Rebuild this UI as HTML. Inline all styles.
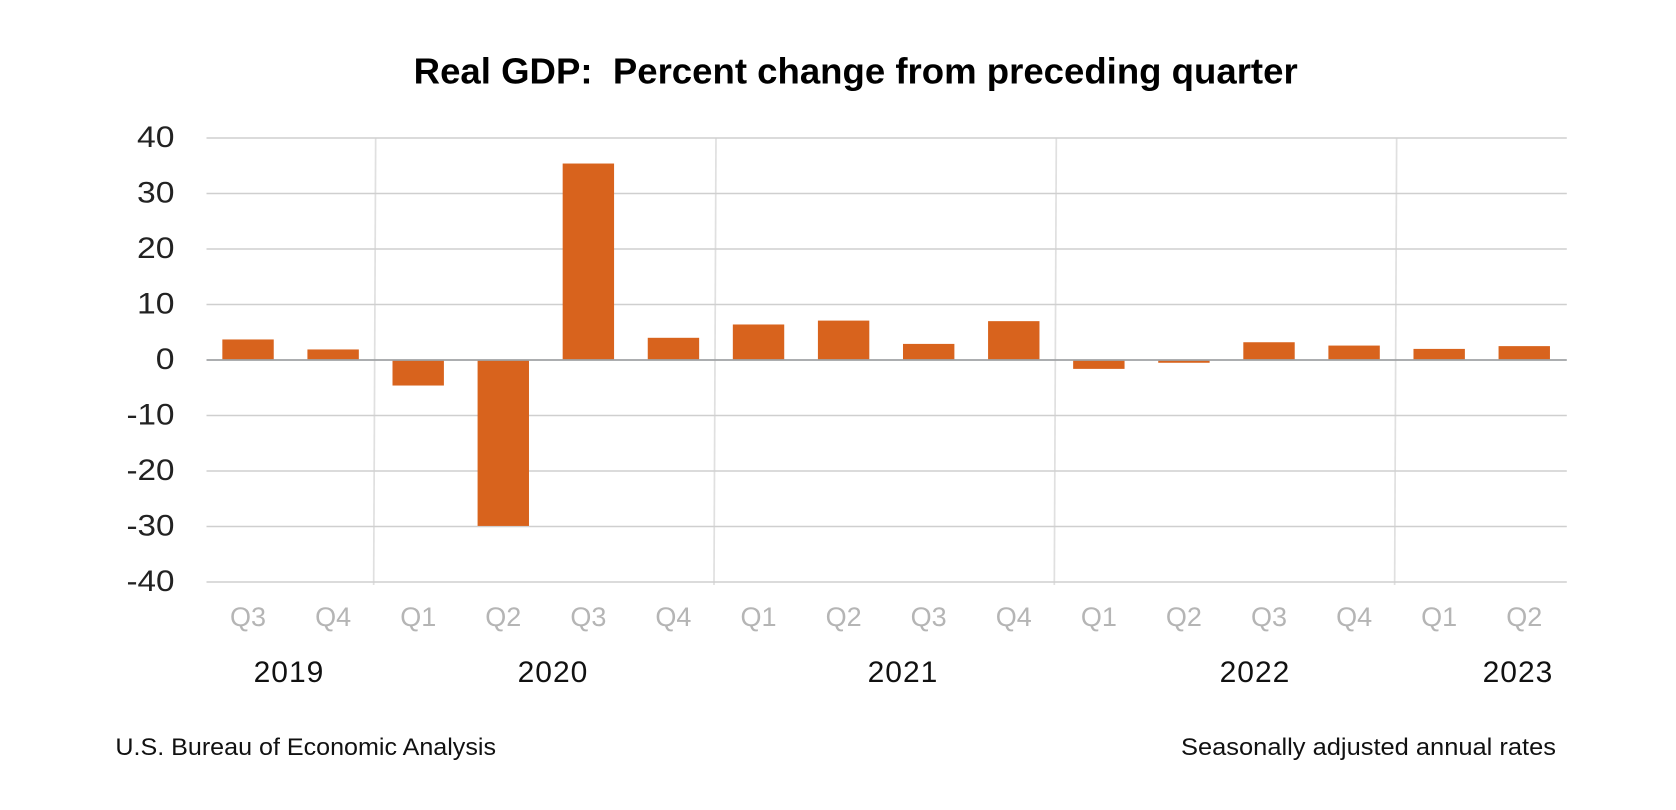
<!DOCTYPE html>
<html>
<head>
<meta charset="utf-8">
<style>
html,body{margin:0;padding:0;background:#fff;width:1676px;height:810px;overflow:hidden}
svg{display:block}
text{font-family:"Liberation Sans",sans-serif;white-space:pre}
</style>
</head>
<body>
<svg id="chart" width="1676" height="810" viewBox="0 0 1676 810" xmlns="http://www.w3.org/2000/svg">
<rect width="1676" height="810" fill="#fff"/>
<text x="413.7" y="83.5" font-size="36" font-weight="bold" fill="#000" textLength="884" lengthAdjust="spacingAndGlyphs">Real GDP:  Percent change from preceding quarter</text>
<text x="115.4" y="755" font-size="24" fill="#111" textLength="380.6" lengthAdjust="spacingAndGlyphs">U.S. Bureau of Economic Analysis</text>
<text x="1181" y="755" font-size="24" fill="#111" textLength="375" lengthAdjust="spacingAndGlyphs">Seasonally adjusted annual rates</text>
<text x="289" y="682" text-anchor="middle" font-size="30" letter-spacing="1" fill="#111">2019</text>
<text x="553" y="682" text-anchor="middle" font-size="30" letter-spacing="1" fill="#111">2020</text>
<text x="903" y="682" text-anchor="middle" font-size="30" letter-spacing="1" fill="#111">2021</text>
<text x="1255" y="682" text-anchor="middle" font-size="30" letter-spacing="1" fill="#111">2022</text>
<text x="1518" y="682" text-anchor="middle" font-size="30" letter-spacing="1" fill="#111">2023</text>
</svg>
<script>
var quarters = ['Q3','Q4','Q1','Q2','Q3','Q4','Q1','Q2','Q3','Q4','Q1','Q2','Q3','Q4','Q1','Q2'];
var gdpValues = [3.7,1.9,-4.6,-29.9,35.4,4.0,6.4,7.1,2.9,7.0,-1.6,-0.5,3.2,2.6,2.0,2.5];
var yTicks = [40,30,20,10,0,-10,-20,-30,-40];

var NS = 'http://www.w3.org/2000/svg';
var svg = document.getElementById('chart');
var left = 205.5, right = 1566.8, slot = (right - left) / quarters.length;
var barWidth = 51.4;
function yScale(v){ return 360 - v * 5.55; }
function xScale(i){ return left + slot * i; }
function make(tag, attrs, text){
  var el = document.createElementNS(NS, tag);
  for (var k in attrs) el.setAttribute(k, attrs[k]);
  if (text !== undefined) el.textContent = text;
  svg.appendChild(el);
  return el;
}
quarters.forEach(function(q, i){
  if (q !== 'Q1') return;
  var sep = make('line', {x1:xScale(i), x2:xScale(i) - 2, y1:yScale(40), y2:yScale(-40) + 3, stroke:'#e0e0e0', 'stroke-width':1.7});
  
  
});
yTicks.forEach(function(t){
  if (t !== 0) {
    var grid = make('line', {x1:left + 1, x2:right, y1:yScale(t), y2:yScale(t), stroke:'#cfcfcf', 'stroke-width':1.6});
    
    
  }
  var label = String(t);
  var digits = label.replace('-', '').length;
  var labelWidth = digits * 18.75 + (t < 0 ? 10.5 : 0);
  var lb = make('text', {x:174.5, y:yScale(t) + 9, 'text-anchor':'end', 'font-size':30, fill:'#222', textLength:labelWidth, lengthAdjust:'spacingAndGlyphs'}, label);
  
  
});
gdpValues.forEach(function(v, i){
  var top = yScale(Math.max(v, 0)), h = Math.abs(yScale(v) - yScale(0));
  var bar = make('rect', {x:xScale(i) + slot/2 - barWidth/2, y:top, width:barWidth, height:h, fill:'#d8631d'});
  
  
});
var axis = make('line', {x1:left + 1, x2:right, y1:yScale(0), y2:yScale(0), stroke:'#a0a3a5', 'stroke-width':1.8});


quarters.forEach(function(q, i){
  var el = make('text', {x:xScale(i) + slot/2, y:626, 'text-anchor':'middle', 'font-size':27, fill:'#b5b5b5'}, q);
  
  
});
</script>
</body>
</html>
